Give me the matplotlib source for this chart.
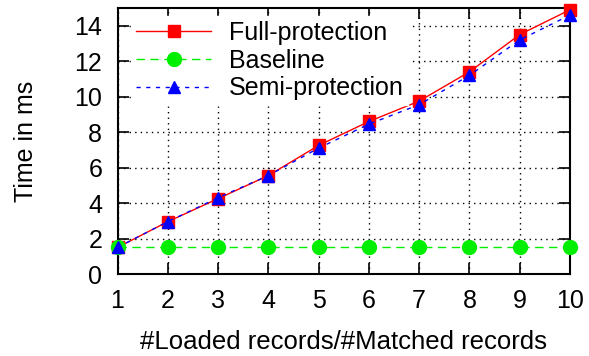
import matplotlib
matplotlib.use('Agg')
import matplotlib.pyplot as plt

plt.rcParams['font.family'] = ['Liberation Sans', 'DejaVu Sans']

records = [1, 2, 3, 4, 5, 6, 7, 8, 9, 10]
full_protection = [1.5, 2.95, 4.25, 5.55, 7.25, 8.6, 9.75, 11.4, 13.5, 14.9]
baseline = [1.5, 1.5, 1.5, 1.5, 1.5, 1.5, 1.5, 1.5, 1.5, 1.5]
semi_protection = [1.5, 2.95, 4.3, 5.55, 7.1, 8.45, 9.55, 11.2, 13.2, 14.6]

fig = plt.figure(figsize=(5.89, 3.56), dpi=100)
ax = fig.add_axes([117.5 / 589, 1 - 274 / 356, (570 - 117.5) / 589, (274 - 8) / 356])

ax.plot(records, full_protection, color='#ff0000', lw=1, ls='-',
        marker='s', ms=9, mec='#ff0000', label='Full-protection', clip_on=False, zorder=3)
ax.plot(records, baseline, color='#00ee00', lw=1, ls=(0, (6, 4)),
        marker='o', ms=10, mec='#00ee00', label='Baseline', clip_on=False, zorder=3)
ax.plot(records, semi_protection, color='#0000ff', lw=1, ls=(0, (3, 4)),
        marker='^', ms=9, mec='#0000ff', label='Semi-protection', clip_on=False, zorder=4)

ax.set_xlim(1, 10)
ax.set_ylim(0, 15)
ax.set_xticks(records)
ax.set_yticks(range(0, 15, 2))
ax.grid(True, color='black', ls=(0, (1, 3)), lw=1)
ax.set_axisbelow(True)
ax.tick_params(direction='in', length=8, width=1.2, top=True, right=True,
               labelsize=18, pad=11)
for s in ax.spines.values():
    s.set_linewidth(1.5)

ax.set_xlabel('#Loaded records/#Matched records', fontsize=18.5, labelpad=12)
ax.set_ylabel('Time in ms', fontsize=18, labelpad=26)

leg = ax.legend(loc='upper left', fontsize=18, frameon=True, framealpha=1,
                edgecolor='white', fancybox=False, handlelength=3.0,
                handletextpad=0.7, labelspacing=0.15, borderpad=0.2,
                borderaxespad=0, bbox_to_anchor=(0.03, 0.97))
leg.set_zorder(5)

fig.savefig('out.png', dpi=100)
